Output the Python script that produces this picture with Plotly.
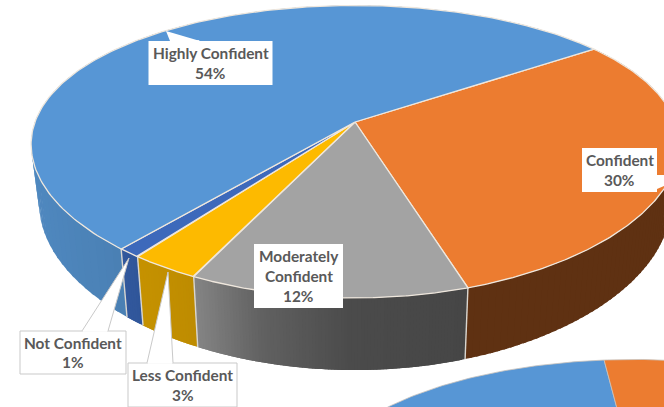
import numpy as np
import plotly.graph_objects as go

# Main pie
categories = ["Highly Confident", "Confident", "Moderately Confident", "Less Confident", "Not Confident"]
shares = [54, 30, 12, 3, 1]
# Drawing order runs clockwise starting from the Confident wedge
clockwise = ["Confident", "Moderately Confident", "Less Confident", "Not Confident", "Highly Confident"]
top_colors = {"Highly Confident": "#5796d5", "Confident": "#ec7c30", "Moderately Confident": "#a3a3a3",
              "Less Confident": "#fdba00", "Not Confident": "#3d69bb"}
side_stops = {"Highly Confident": [(30, "#4f88bf"), (120, "#4a80b4")],
              "Confident": [(460, "#5f3112"), (664, "#5f3112")],
              "Moderately Confident": [(195, "#848484"), (260, "#616161"), (350, "#4b4b4b"), (466, "#464646")],
              "Less Confident": [(135, "#c69200"), (200, "#bd8b00")],
              "Not Confident": [(115, "#33599f"), (145, "#2f5597")]}
start_angle = 54.5

# Neighbouring pie peeking in at the bottom of the frame
second_names = ["Blue part", "Orange part"]
second_shares = [58, 42]
second_colors = ["#5796d5", "#ec7c30"]
second_start = -6.4 - 58 * 3.6

# Projection of the tilted disc
APEX = (355, 122)
SECOND_APEX = (635, 476)
A, B, K_X, K_Y = 320, 140.2, 0.155, 0.203
DEPTH, SHRINK = 57.5, 0.975
SEPARATOR = "#efe7dd"
LINE_GAP = 19.7
MAX_STRIPS = 90


def project(theta, apex, bottom=False):
    t = np.radians(np.asarray(theta, dtype=float))
    u, v = np.sin(t), -np.cos(t)
    fx, fy = 1 / (1 - K_X * v), 1 / (1 - K_Y * v)
    x, y = A * u * fx, B * v * fy
    if bottom:
        return apex[0] + SHRINK * x, apex[1] + y + DEPTH * fy
    return apex[0] + x, apex[1] + y


def blend(stops, x):
    xs = [s[0] for s in stops]
    rgb = [[int(s[1][i:i + 2], 16) for s in stops] for i in (1, 3, 5)]
    return "rgb({:.0f},{:.0f},{:.0f})".format(*[np.interp(x, xs, c) for c in rgb])


def polygon(x, y, fill, line=None, width=0.0):
    return go.Scatter(x=list(x), y=list(y), mode="lines", fill="toself", fillcolor=fill,
                      line=dict(color=line or fill, width=width), hoverinfo="skip", showlegend=False)


share_of = dict(zip(categories, shares))
spans, angle = [], start_angle
for name in clockwise:
    spans.append((name, angle, angle + share_of[name] * 3.6))
    angle += share_of[name] * 3.6

fig = go.Figure()

# Outer wall, built from narrow overlapping strips so the shading can vary along it
for name, a0, a1 in spans:
    steps = int(np.clip((a1 - a0) / 0.5, 2, MAX_STRIPS))
    edges = np.linspace(a0, a1, steps + 1)
    for e0, e1 in zip(edges[:-1], edges[1:]):
        reach = min(a1, e1 + 0.6)
        tx, ty = project([e0, reach], APEX)
        bx, by = project([reach, e0], APEX, bottom=True)
        mid_x = project((e0 + e1) / 2, APEX)[0]
        fig.add_trace(polygon(list(tx) + list(bx), list(ty) + list(by), blend(side_stops[name], mid_x)))

# Light seams where two wedges meet on the wall
for name, a0, a1 in spans[:4]:
    tx, ty = project(a1, APEX)
    bx, by = project(a1, APEX, bottom=True)
    fig.add_trace(go.Scatter(x=[tx, bx], y=[ty, by], mode="lines", line=dict(color="#d9d6d0", width=1.4),
                             hoverinfo="skip", showlegend=False))

# Top faces
for name, a0, a1 in spans:
    arc = np.linspace(a0, a1, 200)
    ax, ay = project(arc, APEX)
    fig.add_trace(polygon([APEX[0], *ax, APEX[0]], [APEX[1], *ay, APEX[1]], top_colors[name], SEPARATOR, 1.3))

# Second pie
angle = second_start
for share, color in zip(second_shares, second_colors):
    arc = np.linspace(angle, angle + share * 3.6, 200)
    ax, ay = project(arc, SECOND_APEX)
    fig.add_trace(polygon([SECOND_APEX[0], *ax, SECOND_APEX[0]], [SECOND_APEX[1], *ay, SECOND_APEX[1]], color, "#c9c3bc", 0.8))
    angle += share * 3.6

# Callout boxes: left, top, right, bottom, pointer, text lines, outline
callouts = [
    (148.5, 41, 272.5, 85, [(170, 41), (166, 31), (200, 41)], ["Highly Confident", "54%"], None),
    (582, 148, 657, 192, [(657, 175), (664, 175), (664, 186), (657, 189)], ["Confident", "30%"], None),
    (254, 244, 343, 308, None, ["Moderately", "Confident", "12%"], None),
    (20, 331, 126, 374, [(82, 331), (129, 258), (108, 331)], ["Not Confident", "1%"], "#c9c9c9"),
    (128, 363, 237, 407, [(147, 363), (168, 272), (173, 363)], ["Less Confident", "3%"], "#c9c9c9"),
]
shapes, annotations = [], []
for x0, y0, x1, y1, pointer, lines, edge in callouts:
    stroke = edge or "rgba(255,255,255,0)"
    shapes.append(dict(type="rect", x0=x0, y0=y0, x1=x1, y1=y1, xref="x", yref="y", layer="above",
                       fillcolor="white", line=dict(color=stroke, width=1)))
    if pointer:
        path = "M " + " L ".join(f"{px},{py}" for px, py in pointer)
        shapes.append(dict(type="path", path=path, xref="x", yref="y", layer="above",
                           fillcolor="white", line=dict(color=stroke, width=1)))
        # hide the stroke where the pointer joins its box
        shapes.append(dict(type="line", x0=pointer[0][0] + 0.8, y0=pointer[0][1], x1=pointer[-1][0] - 0.8,
                           y1=pointer[-1][1], xref="x", yref="y", layer="above",
                           line=dict(color="white", width=1.6)))
    middle = (y0 + y1) / 2
    for i, text in enumerate(lines):
        annotations.append(dict(x=(x0 + x1) / 2, y=middle + (i - (len(lines) - 1) / 2) * LINE_GAP,
                                xref="x", yref="y", text=text,
                                showarrow=False, xanchor="center", yanchor="middle",
                                font=dict(family="Lato", size=15.4, color="#595959", weight="bold")))

fig.update_layout(
    width=664, height=407, margin=dict(l=0, r=0, t=0, b=0),
    paper_bgcolor="white", plot_bgcolor="white", showlegend=False,
    xaxis=dict(range=[0, 664], visible=False, fixedrange=True),
    yaxis=dict(range=[407, 0], visible=False, fixedrange=True),
    shapes=shapes, annotations=annotations,
)
fig.write_html("out.html", config={"displayModeBar": False})
